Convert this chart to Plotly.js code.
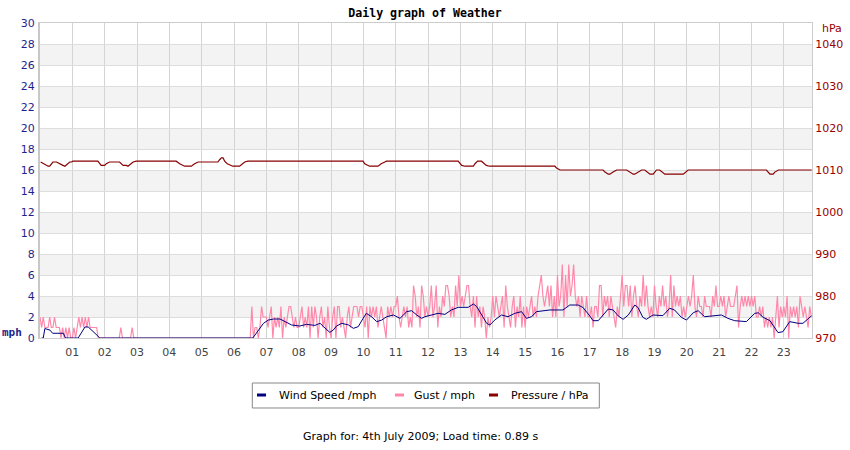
<!DOCTYPE html>
<html>
<head>
<meta charset="utf-8">
<script src="https://cdn.plot.ly/plotly-3.0.1.min.js"></script>
<style>
  body { margin: 0; background: #fff; }
  #graph { width: 850px; height: 450px; }
</style>
</head>
<body>
<div id="graph"></div>
<script>
// x axis: hours of the day
var hourTicks = [1, 2, 3, 4, 5, 6, 7, 8, 9, 10, 11, 12, 13, 14, 15, 16, 17, 18, 19, 20, 21, 22, 23];
var hourLabels = ["01", "02", "03", "04", "05", "06", "07", "08", "09", "10", "11", "12",
                  "13", "14", "15", "16", "17", "18", "19", "20", "21", "22", "23"];

// wind speed (mph)
var windTimes = [0.05, 0.10, 0.15, 0.31, 0.39, 0.72, 0.79, 1.18, 1.39, 1.49, 1.70, 1.85, 6.58,
  6.75, 6.91, 7.06, 7.22, 7.42, 7.57, 7.78, 8.03, 8.24, 8.50, 8.66, 8.76, 8.96, 9.07, 9.17, 9.33,
  9.54, 9.69, 9.84, 9.99, 10.09, 10.25, 10.41, 10.56, 10.72, 10.93, 11.13, 11.34, 11.49, 11.65,
  11.80, 11.90, 12.10, 12.31, 12.52, 12.72, 12.93, 13.24, 13.40, 13.50, 13.66, 13.81, 13.91,
  14.06, 14.27, 14.47, 14.68, 14.89, 15.04, 15.20, 15.35, 15.61, 15.77, 16.17, 16.38, 16.64,
  16.79, 17.00, 17.10, 17.26, 17.42, 17.57, 17.72, 17.88, 18.03, 18.19, 18.39, 18.49, 18.64,
  18.75, 18.95, 19.26, 19.47, 19.62, 19.83, 19.99, 20.20, 20.35, 20.55, 20.76, 21.07, 21.27,
  21.48, 21.84, 22.10, 22.21, 22.36, 22.57, 22.82, 22.97, 23.18, 23.44, 23.59, 23.85];
var windMph = [0, 0, 0.9, 0.75, 0.45, 0.45, 0, 0, 1.05, 1.05, 0.45, 0, 0,
  0.76, 1.4, 1.71, 1.81, 1.81, 1.56, 1.24, 1.14, 1.3, 1.2, 1.4, 1.1, 0.54, 0.76, 1.14, 1.4,
  1.24, 0.92, 1.08, 1.87, 2.35, 2.03, 1.56, 1.7, 2.03, 2.19, 1.87, 2.51, 2.6, 2.19,
  1.87, 2.03, 2.19, 2.35, 2.25, 2.67, 2.92, 2.92, 3.24, 3.0, 2.19, 1.4, 1.24,
  1.71, 2.19, 2.03, 2.35, 2.51, 1.87, 2.03, 2.51, 2.6, 2.67, 2.67, 3.14, 3.14,
  2.9, 2.1, 1.65, 1.65, 2.19, 2.76, 2.67, 2.1, 1.78, 2.19, 3.14, 2.9, 1.97,
  1.78, 2.19, 2.13, 2.83, 2.67, 1.97, 1.71, 2.41, 2.6, 2.03, 2.1, 2.19, 1.87,
  1.65, 1.56, 2.35, 2.4, 1.97, 1.65, 0.51, 0.6, 1.56, 1.4, 1.4, 2.1];

// gust (mph), one reading every 3 minutes from 00:00, one row per hour
var gustMph = [
  2,1,2,1,1,1,2,1,1,2,1,1,1,0,1,0,1,0,1,0,
  0,1,0,1,2,1,2,1,2,1,2,1,1,1,1,1,0,0,0,0,
  0,0,0,0,0,0,0,0,0,0,1,0,0,0,0,0,0,1,0,0,
  0,0,0,0,0,0,0,0,0,0,0,0,0,0,0,0,0,0,0,0,
  0,0,0,0,0,0,0,0,0,0,0,0,0,0,0,0,0,0,0,0,
  0,0,0,0,0,0,0,0,0,0,0,0,0,0,0,0,0,0,0,0,
  0,0,0,0,0,0,0,0,0,0,0,3,0,1,1,0,1,3,2,2,
  2,1,2,3,0,2,1,2,1,3,0,2,1,2,3,3,2,1,2,1,
  1,2,3,1,2,1,3,0,3,1,3,2,0,2,3,1,2,0,3,1,
  0,2,3,0,3,3,1,2,1,0,2,3,1,2,3,3,3,2,3,3,
  2,1,3,0,3,2,3,2,3,1,2,3,2,1,0,3,2,3,2,3,
  3,4,2,1,2,3,2,3,1,2,1,5,4,2,3,1,5,4,2,3,
  2,3,5,2,3,5,1,3,2,4,3,5,5,4,2,3,2,5,3,6,
  3,4,3,4,5,5,3,2,4,1,4,2,3,1,3,2,0,2,1,2,
  4,2,4,3,2,3,4,1,5,3,2,1,3,4,1,3,2,4,1,3,
  1,3,2,3,4,2,3,2,4,5,6,4,3,4,5,3,5,2,4,2,
  6,3,4,7,2,6,3,7,4,5,7,4,3,4,2,4,3,2,4,2,
  2,3,1,3,3,2,5,5,2,4,3,4,2,4,3,2,1,3,2,4,
  6,3,5,5,3,5,2,4,5,3,2,4,3,6,3,5,3,2,3,2,
  5,3,2,4,3,5,3,4,2,3,6,2,5,3,4,3,4,2,3,2,
  3,4,3,4,6,3,2,4,3,3,2,4,3,3,3,2,4,3,5,3,
  3,4,3,4,2,3,4,3,3,3,4,5,1,3,4,3,4,3,4,3,
  4,3,4,2,2,3,2,3,1,2,1,2,1,2,0,2,4,1,3,2,
  3,2,4,0,3,2,3,2,3,1,4,3,2,3,2,1,3,2
];

// pressure (hPa), corners of the red line
var pressureTimes = [0.02, 0.20, 0.25, 0.30, 0.35, 0.40, 0.51, 0.61, 0.66, 0.71, 0.77, 0.85, 0.92,
  0.97, 1.02, 1.79, 1.84, 1.89, 2.00, 2.05, 2.15, 2.46, 2.57, 2.67, 2.72, 2.83, 2.88, 2.98,
  4.21, 4.32, 4.42, 4.47, 4.68, 4.78, 4.89, 5.50, 5.56, 5.61, 5.66, 5.71, 5.79, 5.91, 5.96,
  6.17, 6.28, 6.33, 6.43, 9.99, 10.04, 10.14, 10.19, 10.45, 10.55, 10.66, 10.71, 12.93, 12.98,
  13.04, 13.14, 13.40, 13.45, 13.53, 13.65, 13.73, 13.80, 13.90, 15.92, 15.97, 16.08, 17.41,
  17.47, 17.57, 17.62, 17.72, 17.83, 18.14, 18.24, 18.34, 18.39, 18.50, 18.60, 18.70, 18.78,
  18.86, 18.96, 19.01, 19.06, 19.16, 19.25, 19.32, 19.89, 19.96, 20.04, 22.46, 22.52, 22.57,
  22.67, 22.72, 22.83, 23.86];
var pressureHpa = [1011.9, 1011.1, 1010.9, 1010.9, 1011.5, 1011.9, 1011.9, 1011.5, 1011.1, 1011.1, 1010.9, 1011.5, 1011.9,
  1011.9, 1012.1, 1012.1, 1011.5, 1011.1, 1011.1, 1011.5, 1011.9, 1011.9, 1011.1, 1011.1, 1010.9, 1011.5, 1011.9, 1012.1,
  1012.1, 1011.5, 1011.1, 1010.9, 1010.9, 1011.5, 1011.9, 1011.9, 1012.5, 1012.9, 1012.9, 1012.1, 1011.5, 1011.1, 1010.9,
  1010.9, 1011.5, 1011.9, 1012.1, 1012.1, 1011.5, 1011.1, 1010.9, 1010.9, 1011.5, 1011.9, 1012.1, 1012.1, 1011.5,
  1011.1, 1010.9, 1010.9, 1011.5, 1012.1, 1012.1, 1011.5, 1011.1, 1010.9, 1010.9, 1010.5, 1010.0, 1010.0,
  1009.5, 1009.0, 1009.0, 1009.5, 1010.0, 1010.0, 1009.5, 1009.0, 1009.0, 1009.5, 1010.0, 1010.0, 1009.5,
  1009.0, 1009.0, 1009.5, 1010.0, 1010.0, 1009.5, 1009.0, 1009.0, 1009.5, 1010.0, 1010.0, 1009.5, 1009.0,
  1009.0, 1009.5, 1010.0, 1010.0];

var windColor = "#000080", gustColor = "#ff88aa", pressureColor = "#880000";

var data = [
  {
    type: "scatter", mode: "lines", name: "Gust / mph",
    x0: 0, dx: 0.05, y: gustMph,
    line: { color: gustColor, width: 1.2 }
  },
  {
    type: "scatter", mode: "lines", name: "Wind Speed /mph",
    x: windTimes, y: windMph,
    line: { color: windColor, width: 1 }
  },
  {
    type: "scatter", mode: "lines", name: "Pressure / hPa",
    x: pressureTimes, y: pressureHpa, yaxis: "y2",
    line: { color: pressureColor, width: 1.2 }
  }
];

// alternating grey bands behind the left axis grid
var shapes = [];
for (var v = 2; v < 30; v += 4) {
  shapes.push({
    type: "rect", xref: "paper", x0: 0, x1: 1, yref: "y", y0: v, y1: v + 2,
    fillcolor: "#f3f3f3", line: { width: 0 }, layer: "below"
  });
}

// legend drawn as a boxed row below the plot, like the original page
var legendNames = ["Wind Speed /mph", "Gust / mph", "Pressure / hPa"];
var legendColors = [windColor, gustColor, pressureColor];
var legendSwatchX = [0.2811, 0.4598, 0.5816];
var legendTextX = [0.3066, 0.4815, 0.6079];
var legendY = -0.181;

shapes.push({
  type: "rect", xref: "paper", yref: "paper", x0: 0.2750, x1: 0.7245, y0: -0.2222, y1: -0.1429,
  fillcolor: "#ffffff", line: { color: "#888888", width: 1 }
});

var annotations = [
  { text: "mph", xref: "paper", yref: "paper", x: -0.0365, y: 0.016,
    xanchor: "center", yanchor: "middle", showarrow: false,
    font: { family: "DejaVu Sans Mono", weight: "bold", color: "#1f1f8f", size: 11 } },
  { text: "hPa", xref: "paper", yref: "paper", x: 1.026, y: 0.981,
    xanchor: "center", yanchor: "middle", showarrow: false,
    font: { color: "#990000", size: 11 } },
  { text: "Graph for: 4th July 2009; Load time: 0.89 s", xref: "paper", yref: "paper",
    x: 0.4935, y: -0.314, xanchor: "center", yanchor: "middle", showarrow: false,
    font: { color: "#000000", size: 11 } }
];

for (var i = 0; i < legendNames.length; i++) {
  shapes.push({
    type: "line", xref: "paper", yref: "paper",
    x0: legendSwatchX[i], x1: legendSwatchX[i] + 0.0117, y0: legendY, y1: legendY,
    line: { color: legendColors[i], width: 3 }
  });
  annotations.push({
    text: legendNames[i], xref: "paper", yref: "paper", x: legendTextX[i], y: legendY,
    xanchor: "left", yanchor: "middle", showarrow: false,
    font: { color: "#000000", size: 11 }
  });
}

var layout = {
  width: 850,
  height: 450,
  margin: { l: 40, r: 38, t: 23, b: 112 },
  paper_bgcolor: "#ffffff",
  plot_bgcolor: "#ffffff",
  font: { family: "DejaVu Sans", size: 11, color: "#333333" },
  title: {
    text: "Daily graph of Weather",
    font: { family: "DejaVu Sans Mono", size: 11.6, weight: "bold", color: "#000000" },
    x: 0.5, xref: "container", y: 0.971, yref: "container", yanchor: "middle"
  },
  showlegend: false,
  xaxis: {
    range: [0, 23.87],
    tickvals: hourTicks, ticktext: hourLabels,
    ticks: "", ticklabelstandoff: 4,
    tickfont: { color: "#444444", size: 11 },
    showgrid: true, gridcolor: "#d4d4d4", gridwidth: 1,
    zeroline: false,
    showline: true, mirror: true, linecolor: "#cccccc", linewidth: 1
  },
  yaxis: {
    range: [0, 30], dtick: 2,
    ticks: "", ticklabelstandoff: 1,
    tickfont: { color: "#1f1f8f", size: 11 },
    showgrid: true, gridcolor: "#dddddd", gridwidth: 1,
    zeroline: false,
    showline: true, linecolor: "#c8c8c8", linewidth: 2
  },
  yaxis2: {
    overlaying: "y", side: "right",
    range: [970, 1045],
    tickvals: [970, 980, 990, 1000, 1010, 1020, 1030, 1040],
    ticks: "", ticklabelstandoff: 0,
    tickfont: { color: "#990000", size: 11 },
    showgrid: false, zeroline: false,
    showline: true, linecolor: "#cccccc", linewidth: 1
  },
  shapes: shapes,
  annotations: annotations
};

Plotly.newPlot("graph", data, layout, { displayModeBar: false, staticPlot: true });
</script>
</body>
</html>
